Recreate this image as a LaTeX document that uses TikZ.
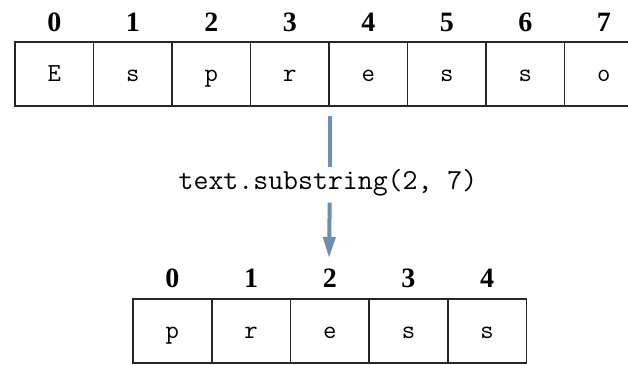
\documentclass[tikz,border=0pt]{standalone}
\usepackage{fontspec}
\setmainfont{Liberation Serif}
\usetikzlibrary{arrows.meta}
\definecolor{arrowblue}{RGB}{110,143,181}
\tikzset{
  cellbox/.style={draw=black!85, line width=1.4pt, minimum width=78.5pt,
    minimum height=64pt, inner sep=0pt, text height=14pt, text depth=0pt,
    font=\ttfamily\fontsize{26}{26}\selectfont},
  idxlabel/.style={inner sep=0pt, font=\bfseries\fontsize{28}{28}\selectfont},
  calllabel/.style={inner sep=0pt, font=\ttfamily\fontsize{29}{29}\selectfont},
  flow/.style={draw=arrowblue, line width=4pt},
}
\begin{document}
\begin{tikzpicture}[x=1pt,y=-1pt]
\clip (0,0) rectangle (628,364);
\fill[white] (0,0) rectangle (628,364);
% source string with its indices
\foreach \ch [count=\i from 0] in {E,s,p,r,e,s,s,o} {
  \node[cellbox] (top\i) at ({15+78.5*(\i+0.5)},74) {\ch};
  \node[idxlabel] (ti\i) at ({15+78.5*(\i+0.5)},22) {\i};
}
% resulting substring with its indices
\foreach \ch [count=\i from 0] in {p,r,e,s,s} {
  \node[cellbox] (bot\i) at ({133+78.7*(\i+0.5)},331) {\ch};
  \node[idxlabel] (bi\i) at ({133+78.7*(\i+0.5)},278) {\i};
}
\node[calllabel] (call) at (328,183) {text.substring(2, 7)};
\coordinate (from) at (top3.south east);
\coordinate (to) at (329,258);
\draw[flow] ([yshift=-9pt]from) -- ([yshift=2pt]from |- call.north);
\draw[flow, -{Triangle[length=21pt,width=12pt]}] (from |- call.south) ++(0,-6pt) -- (to);
\end{tikzpicture}
\end{document}
